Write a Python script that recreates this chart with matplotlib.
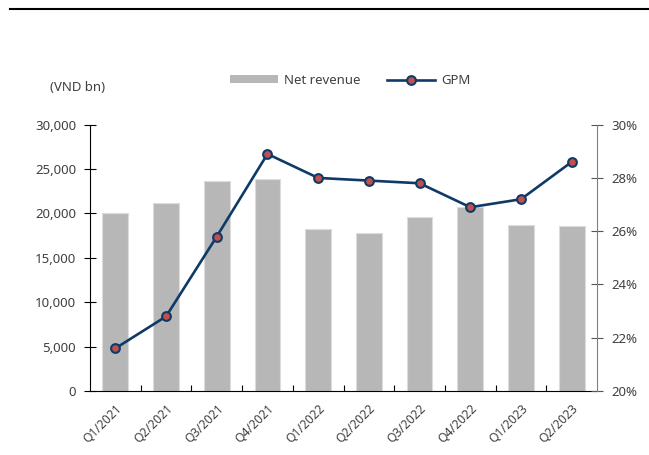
import matplotlib.pyplot as plt
from matplotlib.lines import Line2D
from matplotlib.patches import Patch
from matplotlib.ticker import FuncFormatter

plt.rcParams['font.family'] = ['Noto Sans', 'DejaVu Sans']

quarters = ["Q1/2021", "Q2/2021", "Q3/2021", "Q4/2021", "Q1/2022",
            "Q2/2022", "Q3/2022", "Q4/2022", "Q1/2023", "Q2/2023"]
net_revenue = [20000, 21200, 23650, 23880, 18240,
               17850, 19590, 20720, 18720, 18610]
gpm = [21.6, 22.8, 25.8, 28.9, 28.0, 27.9, 27.8, 26.9, 27.2, 28.6]

text_color = "#404040"
bar_color = "#b7b7b7"
line_color = "#0f3a68"
marker_color = "#c0504d"

fig = plt.figure(figsize=(6.49, 4.55), dpi=100)
ax = fig.add_axes([0.1387, 0.1407, 0.7812, 0.5853])

x = list(range(len(quarters)))
ax.bar(x, net_revenue, width=0.51, color=bar_color,
       edgecolor="#dcdcdc", linewidth=0.8, zorder=2)
ax.set_xlim(-0.5, len(quarters) - 0.5)
ax.set_ylim(0, 30000)
ax.set_yticks(range(0, 30001, 5000))
ax.yaxis.set_major_formatter(FuncFormatter(lambda v, p: f"{int(v):,}"))

# category boundaries get the small x ticks
ax.set_xticks([i + 0.5 for i in x[:-1]], minor=False)
ax.set_xticklabels([])
ax.set_xticks(x, minor=True)
ax.set_xticklabels(quarters, minor=True, rotation=45, ha="right",
                   rotation_mode="anchor", fontsize=8.8, color=text_color)
ax.tick_params(axis="x", which="major", direction="in", length=4,
               width=0.8, color="black")
ax.tick_params(axis="x", which="minor", length=0, pad=8)
ax.tick_params(axis="y", direction="inout", length=8, width=0.8,
               labelsize=9.5, labelcolor=text_color, pad=6)

for side in ["top", "right"]:
    ax.spines[side].set_visible(False)
ax.spines["left"].set_color("black")
ax.spines["bottom"].set_color("black")

ax2 = ax.twinx()
ax2.plot(x, gpm, color=line_color, linewidth=1.9, marker="o",
         markersize=6.3, markerfacecolor=marker_color,
         markeredgecolor=line_color, markeredgewidth=1.5, zorder=3)
ax2.set_ylim(20, 30)
ax2.set_yticks(range(20, 31, 2))
ax2.yaxis.set_major_formatter(FuncFormatter(lambda v, p: f"{int(v)}%"))
ax2.tick_params(axis="y", direction="inout", length=8, width=0.8,
                color="#555555", labelsize=9.5, labelcolor=text_color, pad=6)
for side in ["top", "left", "bottom"]:
    ax2.spines[side].set_visible(False)
ax2.spines["right"].set_color("#808080")

fig.text(0.077, 0.808, "(VND bn)", fontsize=9.5, color=text_color,
         va="center", ha="left")

handles = [
    Patch(facecolor=bar_color, edgecolor="none"),
    Line2D([0], [0], color=line_color, linewidth=1.9, marker="o",
           markersize=6.3, markerfacecolor=marker_color,
           markeredgecolor=line_color, markeredgewidth=1.5),
]
leg = fig.legend(handles, ["Net revenue", "GPM"], loc="center",
                 bbox_to_anchor=(0.54, 0.823), ncol=2, frameon=False,
                 fontsize=9.5, handlelength=3.6, handleheight=0.55,
                 columnspacing=2.0, handletextpad=0.5)
for t in leg.get_texts():
    t.set_color(text_color)

fig.add_artist(Line2D([0.015, 1.0], [0.980, 0.980], color="black",
                      linewidth=1.5, transform=fig.transFigure))

fig.savefig("out.png", dpi=100)
